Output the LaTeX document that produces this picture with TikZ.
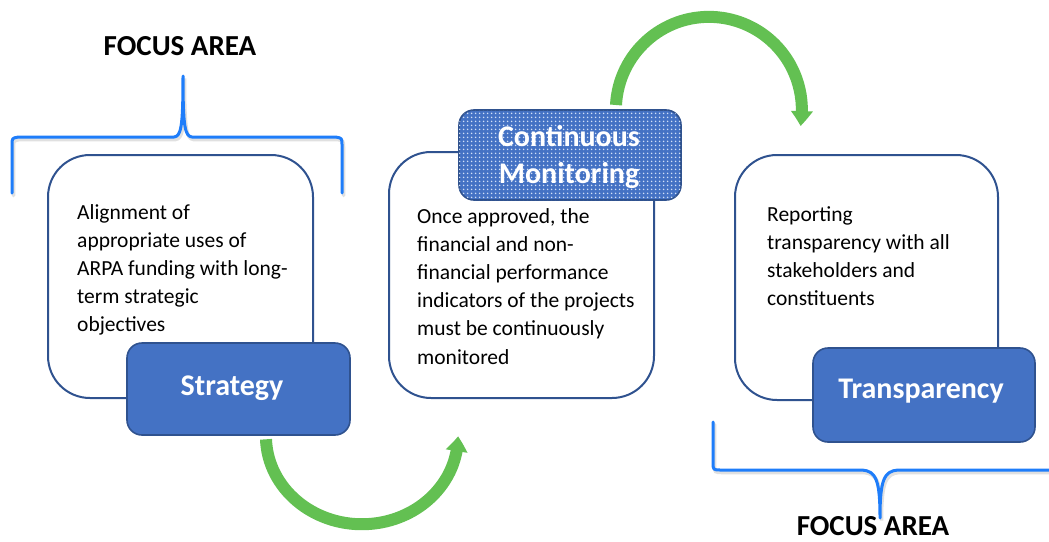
\documentclass[tikz,border=0pt]{standalone}
\usepackage{fontspec}
\setmainfont{Carlito}
\usetikzlibrary{arrows.meta,bending,patterns.meta}

\definecolor{boxline}{RGB}{47,82,143}
\definecolor{boxfill}{RGB}{68,114,196}
\definecolor{bracecol}{RGB}{30,125,250}
\definecolor{flowgreen}{RGB}{99,192,82}
\definecolor{dotcol}{RGB}{210,224,247}

\tikzdeclarepattern{
  name=finedots,
  type=uncolored,
  bounding box={(-2pt,-2pt) and (2pt,2pt)},
  tile size={(4pt,4pt)},
  code={\fill (0pt,0pt) circle (1.05pt);}
}

\tikzset{
  panel/.style={draw=boxline, line width=2pt, fill=white, rounded corners=42pt, inner sep=0pt},
  tag/.style={draw=boxline, line width=1.6pt, fill=boxfill, rounded corners=15pt, inner sep=0pt},
  tagtext/.style={text=white, font=\fontsize{30}{37}\selectfont\bfseries, align=center, inner sep=0pt},
  body/.style={font=\fontsize{21.5}{28.2}\selectfont, align=left, anchor=north west, inner sep=0pt},
  heading/.style={font=\fontsize{29}{34}\selectfont\bfseries, inner sep=0pt},
  brace/.style={draw=bracecol, line width=3pt, line cap=round, line join=round},
  braceshade/.style={draw=black, opacity=0.12, line width=3.5pt, line cap=round},
  flow/.style={draw=flowgreen, line width=12pt, -{Triangle[length=15pt,width=21pt,bend]}}
}

\begin{document}
\begin{tikzpicture}[x=1pt,y=-1pt]
\useasboundingbox (0,0) rectangle (1049,541);

% top brace over the strategy panel
\begin{scope}[shift={(1.5,2.5)}]
\draw[braceshade] (12,193) -- (12,145) .. controls (12,138) .. (19,137) -- (174,137)
  .. controls (181,136) and (183,128) .. (183,76)
  .. controls (183,128) and (185,136) .. (192,137) -- (335,137)
  .. controls (342,138) .. (342,145) -- (342,193);
\end{scope}
\draw[brace] (12,193) -- (12,145) .. controls (12,138) .. (19,137) -- (174,137)
  .. controls (181,136) and (183,128) .. (183,76)
  .. controls (183,128) and (185,136) .. (192,137) -- (335,137)
  .. controls (342,138) .. (342,145) -- (342,193);

% bottom brace under the transparency panel
\begin{scope}[shift={(1.5,2.5)}]
\draw[braceshade] (713,422) -- (713,462) .. controls (713,470) .. (721,470) -- (862,470)
  .. controls (876,471) and (880,480) .. (880,518)
  .. controls (880,480) and (884,471) .. (898,470) -- (1052,470);
\end{scope}
\draw[brace] (713,422) -- (713,462) .. controls (713,470) .. (721,470) -- (862,470)
  .. controls (876,471) and (880,480) .. (880,518)
  .. controls (880,480) and (884,471) .. (898,470) -- (1052,470);

% headings
\node[heading] (fa1) at (180,46) {FOCUS AREA};
\node[heading] (fa2) at (873,526.5) {FOCUS AREA};

% panels
\node[panel, minimum width=265pt, minimum height=243pt] (p1) at (180.5,276.5) {};
\node[panel, minimum width=265pt, minimum height=246pt] (p2) at (521.5,275) {};
\node[panel, minimum width=263pt, minimum height=245pt] (p3) at (866.5,277.5) {};

% panel texts
\node[body] (t1) at (77,204) {Alignment of\\appropriate uses of\\ARPA funding with long-\\term strategic\\objectives};
\node[body] (t2) at (417,208) {Once approved, the\\financial and non-\\financial performance\\indicators of the projects\\must be continuously\\monitored};
\node[body] (t3) at (767,206) {Reporting\\transparency with all\\stakeholders and\\constituents};

% labels
\node[tag, minimum width=223pt, minimum height=92pt] (s) at (238.5,389) {};
\node[tagtext] (sl) at (232,388) {Strategy};
\node[tag, minimum width=222pt, minimum height=90pt,
  postaction={pattern={finedots}, pattern color=dotcol, rounded corners=15pt}] (m) at (570,155) {};
\node[tagtext] (ml) at (569,156.5) {Continuous\\Monitoring};
\node[tag, minimum width=222pt, minimum height=94pt] (tr) at (924,395) {};
\node[tagtext] (tl) at (921,391) {Transparency};

% green flow arrows
\coordinate (b1) at (266,439.3);
\draw[flow] (b1) arc[start angle=178, end angle=0, x radius=96, y radius=88];
\coordinate (b2) at (616,105);
\draw[flow] (b2) arc[start angle=183, end angle=370, radius=93];
\end{tikzpicture}
\end{document}
